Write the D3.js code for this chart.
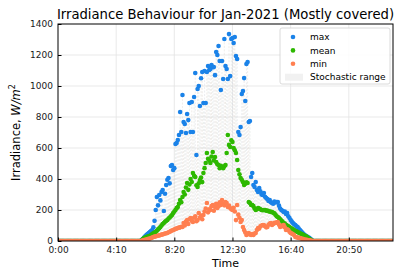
<!DOCTYPE html>
<html>
<head>
<meta charset="utf-8">
<script src="https://cdn.jsdelivr.net/npm/d3@7"></script>
<style>
  body { margin: 0; background: #fff; }
  svg { display: block; font-family: "DejaVu Sans", sans-serif; }
</style>
</head>
<body>
<div id="chart"></div>
<script>
// daylight samples every 5 minutes, first one at 6:00 (minute 360); night is 0
const firstMinute = 360;
const stepMinutes = 5;

const maxValues = [
  8, 15, 22, 30, 38, 45, 52, 58, 64, 71, 88, 130, 200, 284, 230, 297, 262, 316, 329, 194,
  305, 361, 395, 406, 372, 484, 490, 458, 470, 626, 632, 652, 684, 832, 703, 942, 768, 755, 697, 819,
  780, 890, 703, 897, 703, 929, 1084, 555, 981, 1000, 871, 1050, 1090, 890, 1097, 890, 1090, 1129, 1103, 1110,
  1135, 1122, 1122, 1070, 1219, 1200, 1258, 1161, 974, 1161, 1045, 1303, 1129, 1110, 1045, 1335, 1064, 1303, 1309, 1277,
  1316, 1193, 1174, 703, 684, 735, 948, 968, 1051, 903, 1142, 1155, 768, 774, 413, 439, 361, 348, 380, 329,
  316, 342, 320, 300, 297, 310, 285, 277, 270, 258, 264, 250, 245, 240, 255, 248, 252, 252, 228, 210,
  200, 195, 187, 190, 175, 181, 160, 148, 135, 125, 116, 108, 103, 95, 90, 80, 71, 62, 55, 47,
  39, 33, 28, 24, 20, 15, 8
];

const meanValues = [
  5, 12, 19, 22, 25, 28, 30, 32, 38, 45, 50, 55, 58, 66, 75, 82, 90, 100, 110, 116,
  124, 130, 135, 145, 152, 160, 168, 180, 190, 200, 212, 219, 240, 264, 250, 284, 316, 300, 345, 374,
  330, 365, 400, 381, 439, 420, 413, 360, 348, 372, 394, 410, 380, 439, 470, 503, 568, 530, 520, 503,
  545, 574, 520, 542, 510, 495, 490, 470, 485, 477, 470, 482, 490, 568, 684, 620, 606, 650, 639, 600,
  585, 568, 523, 458, 430, 406, 395, 381, 361, 370, 378, 374, 252, 245, 232, 232, 225, 210, 200, 205,
  213, 210, 205, 200, 198, 200, 200, 195, 196, 192, 190, 188, 187, 182, 178, 170, 160, 155, 148, 140,
  132, 125, 116, 112, 105, 100, 95, 90, 84, 80, 75, 70, 65, 62, 58, 54, 50, 46, 43, 39,
  35, 31, 27, 19, 14, 9, 5
];

const minValues = [
  2, 4, 6, 8, 10, 12, 14, 16, 19, 22, 26, 28, 30, 32, 34, 36, 39, 41, 43, 45,
  48, 50, 52, 56, 60, 64, 68, 71, 74, 78, 80, 84, 86, 88, 92, 90, 116, 100, 125, 135,
  110, 140, 148, 130, 123, 150, 160, 128, 135, 181, 150, 165, 140, 168, 190, 210, 245, 185, 205, 200,
  225, 232, 195, 220, 240, 213, 225, 250, 232, 264, 240, 230, 252, 245, 219, 228, 213, 205, 200, 215,
  190, 135, 232, 170, 150, 123, 135, 90, 71, 55, 39, 45, 52, 42, 39, 45, 39, 48, 52, 71,
  84, 80, 95, 100, 103, 103, 95, 88, 90, 105, 112, 116, 103, 110, 118, 116, 120, 123, 105, 90,
  98, 95, 103, 88, 71, 75, 71, 60, 52, 48, 44, 39, 26, 24, 22, 20, 19, 16, 14, 12,
  10, 8, 7, 5, 4, 3, 2
];

const xTickMinutes = [0, 250, 500, 750, 1000, 1250];
const xTickLabels = ["0:00", "4:10", "8:20", "12:30", "16:40", "20:50"];
const yTickValues = [0, 200, 400, 600, 800, 1000, 1200, 1400];

const seriesNames = ["max", "mean", "min"];
const seriesColors = ["#1a82e8", "#2db800", "#ff7f50"];

const width = 403, height = 278;
const margin = { top: 24, right: 10, bottom: 37, left: 58 };

const svg = d3.select("#chart").append("svg")
  .attr("width", width)
  .attr("height", height);

const x = d3.scaleLinear().domain([0, 1440]).range([margin.left, width - margin.right]);
const y = d3.scaleLinear().domain([0, 1400]).range([height - margin.bottom, margin.top]);

// time axis of the samples
const lastMinute = firstMinute + stepMinutes * (maxValues.length - 1);
const dayMinutes = maxValues.map((d, i) => firstMinute + i * stepMinutes);
const nightMinutes = d3.range(0, firstMinute, stepMinutes)
  .concat(d3.range(lastMinute + stepMinutes, 1440, stepMinutes));

const rows = dayMinutes.map((m, i) => ({ t: m, max: maxValues[i], mean: meanValues[i], min: minValues[i] }))
  .concat(nightMinutes.map(m => ({ t: m, max: 0, mean: 0, min: 0 })));

svg.append("clipPath").attr("id", "plotclip")
  .append("rect")
  .attr("x", x.range()[0]).attr("y", y.range()[1])
  .attr("width", x.range()[1] - x.range()[0])
  .attr("height", y.range()[0] - y.range()[1]);

// grid
const grid = svg.append("g");
grid.selectAll(".gy").data(yTickValues.slice(1, -1)).enter().append("line")
  .attr("x1", x.range()[0]).attr("x2", x.range()[1])
  .attr("y1", d => y(d)).attr("y2", d => y(d))
  .attr("stroke", "#e3e3e3").attr("stroke-width", 0.8);
grid.selectAll(".gx").data(xTickMinutes.slice(1)).enter().append("line")
  .attr("x1", d => x(d)).attr("x2", d => x(d))
  .attr("y1", y.range()[0]).attr("y2", y.range()[1])
  .attr("stroke", "#e3e3e3").attr("stroke-width", 0.8);

const plot = svg.append("g").attr("clip-path", "url(#plotclip)");

// stochastic range: faint span between min and max at each step
const rangeTints = ["#d9cfc9", "#cfd9d2", "#d2d4de", "#dcd6cc"];
plot.append("g").selectAll("line").data(rows.filter(r => r.max > 0)).enter().append("line")
  .attr("x1", d => x(d.t)).attr("x2", d => x(d.t))
  .attr("y1", d => y(d.min)).attr("y2", d => y(d.max))
  .attr("stroke", (d, i) => rangeTints[i % rangeTints.length])
  .attr("stroke-width", 1)
  .attr("stroke-dasharray", "2,1.5")
  .attr("opacity", 0.4);

// scatter series
seriesNames.forEach((name, k) => {
  plot.append("g").selectAll("circle").data(rows).enter().append("circle")
    .attr("cx", d => x(d.t))
    .attr("cy", d => y(d[name]))
    .attr("r", 2.3)
    .attr("fill", seriesColors[k]);
});

// frame
svg.append("rect")
  .attr("x", x.range()[0]).attr("y", y.range()[1])
  .attr("width", x.range()[1] - x.range()[0])
  .attr("height", y.range()[0] - y.range()[1])
  .attr("fill", "none").attr("stroke", "#000").attr("stroke-width", 1);

// axes, ticks pointing inward
const xAxis = d3.axisBottom(x)
  .tickValues(xTickMinutes)
  .tickFormat((d, i) => xTickLabels[i])
  .tickSizeInner(-3.5).tickSizeOuter(0).tickPadding(6);
const yAxis = d3.axisLeft(y)
  .tickValues(yTickValues)
  .tickFormat(d3.format("d"))
  .tickSizeInner(-3.5).tickSizeOuter(0).tickPadding(5);

const gx = svg.append("g").attr("transform", `translate(0,${y.range()[0]})`).call(xAxis);
const gy = svg.append("g").attr("transform", `translate(${x.range()[0]},0)`).call(yAxis);
[gx, gy].forEach(g => {
  g.select(".domain").remove();
  g.selectAll("text").attr("font-size", 9).attr("font-family", "DejaVu Sans").attr("fill", "#1a1a1a");
  g.selectAll("line").attr("stroke", "#000");
});

// titles
svg.append("text")
  .attr("x", (x.range()[0] + x.range()[1]) / 2).attr("y", 19)
  .attr("text-anchor", "middle").attr("font-size", 13.2).attr("fill", "#000")
  .text("Irradiance Behaviour for Jan-2021 (Mostly covered)");

svg.append("text")
  .attr("x", (x.range()[0] + x.range()[1]) / 2).attr("y", 267)
  .attr("text-anchor", "middle").attr("font-size", 11).attr("fill", "#000")
  .text("Time");

const yl = svg.append("text")
  .attr("transform", `translate(20,${(y.range()[0] + y.range()[1]) / 2}) rotate(-90)`)
  .attr("text-anchor", "middle").attr("font-size", 11.5).attr("fill", "#000");
yl.append("tspan").text("Irradiance, ");
yl.append("tspan").attr("font-style", "italic").text("W/m");
yl.append("tspan").attr("font-size", 8).attr("dy", -5).text("2");

// legend
const legendItems = seriesNames.concat(["Stochastic range"]);
const lg = svg.append("g").attr("transform", "translate(280,28)");
lg.append("rect")
  .attr("width", 110).attr("height", 56).attr("rx", 2)
  .attr("fill", "#fff").attr("fill-opacity", 0.85)
  .attr("stroke", "#d0d0d0").attr("stroke-width", 0.8);
legendItems.forEach((name, i) => {
  const cy = 9 + i * 13.4;
  if (i < seriesNames.length) {
    lg.append("circle").attr("cx", 13).attr("cy", cy).attr("r", 2.3).attr("fill", seriesColors[i]);
  } else {
    lg.append("rect").attr("x", 5).attr("y", cy - 3.5).attr("width", 18).attr("height", 7)
      .attr("fill", "#f1f1f1");
  }
  lg.append("text").attr("x", 30).attr("y", cy + 3.2)
    .attr("font-size", 9).attr("fill", "#000").text(name);
});
</script>
</body>
</html>
